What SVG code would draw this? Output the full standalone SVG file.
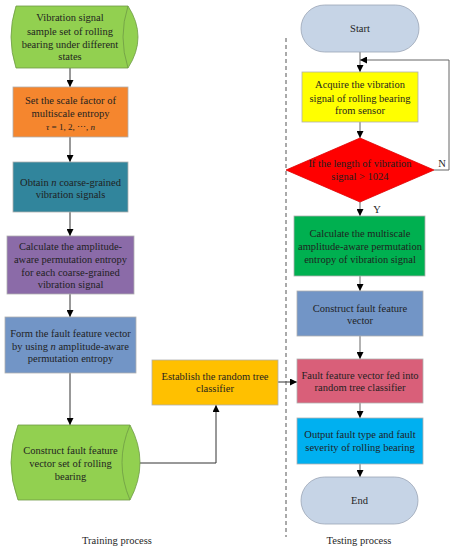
<svg xmlns="http://www.w3.org/2000/svg" width="454" height="550" viewBox="0 0 454 550">
<defs>
<marker id="ah" viewBox="0 0 10 10" refX="10" refY="5" markerWidth="7" markerHeight="7" markerUnits="userSpaceOnUse" orient="auto">
<path d="M0,0 L10,5 L0,10 z" fill="#000"/>
</marker>
<style>
text{font-family:"Liberation Serif","Times New Roman",serif;font-size:10.5px;fill:#1f1f1f;text-anchor:middle}
.box{stroke:#b0b0b0;stroke-width:0.8}
.cyl{fill:#92D050;stroke:#6f9a45;stroke-width:0.8}
.conn{fill:none;stroke:#333;stroke-width:1;marker-end:url(#ah)}
.connr{fill:none;stroke:#666;stroke-width:1;marker-end:url(#ah)}
.it{font-style:italic}
</style>
</defs>
<rect width="454" height="550" fill="#fff"/>

<g id="connectors">
<path class="conn" d="M70,68 V87"/>
<path class="conn" d="M70,137 V162"/>
<path class="conn" d="M70,212 V236"/>
<path class="conn" d="M70,294 V317"/>
<path class="conn" d="M70,373 V425"/>
<path class="conn" d="M140,463 H216 V405"/>
<path class="conn" d="M278,382 H297"/>
<path class="connr" d="M360,52 V72"/>
<path class="connr" d="M434,170 H449 V60 H360"/>
<path class="connr" d="M360,122 V138"/>
<path class="connr" d="M360,202 V216"/>
<path class="connr" d="M360,276 V291"/>
<path class="connr" d="M360,336 V359"/>
<path class="connr" d="M360,403 V418"/>
<path class="connr" d="M360,464 V477"/>
</g>

<line id="divider" x1="286" y1="38" x2="286" y2="537" stroke="#555" stroke-width="1" stroke-dasharray="4,3"/>

<g id="n_samples">
<path class="cyl" d="M16,6 Q6,37 16,68 H128 Q148,37 128,6 Z"/>
<path d="M128,6 Q118,37 128,68" fill="none" stroke="#6f9a45" stroke-width="0.8"/>
<text x="70" y="21">Vibration signal</text>
<text x="70" y="35">sample set of rolling</text>
<text x="70" y="48">bearing under different</text>
<text x="70" y="60">states</text>
</g>

<g id="n_scale">
<rect class="box" x="13" y="87" width="115" height="50" fill="#F5862E"/>
<text x="70.5" y="103.5">Set the scale factor of</text>
<text x="70.5" y="116.5">multiscale entropy</text>
<text x="70.5" y="130" style="font-size:9px"><tspan class="it">τ</tspan> = 1, 2, ⋯, <tspan class="it">n</tspan></text>
</g>

<g id="n_coarse">
<rect class="box" x="13" y="162" width="115" height="50" fill="#31859C"/>
<text x="70.5" y="186">Obtain <tspan class="it">n</tspan> coarse-grained</text>
<text x="70.5" y="198">vibration signals</text>
</g>

<g id="n_aape">
<rect class="box" x="7" y="236" width="127" height="58" fill="#8B6BA8"/>
<text x="70.5" y="250">Calculate the amplitude-</text>
<text x="70.5" y="263">aware permutation entropy</text>
<text x="70.5" y="276">for each coarse-grained</text>
<text x="70.5" y="288">vibration signal</text>
</g>

<g id="n_form">
<rect class="box" x="5" y="317" width="131" height="56" fill="#7295C6"/>
<text x="70.5" y="337">Form the fault feature vector</text>
<text x="70.5" y="350">by using <tspan class="it">n</tspan> amplitude-aware</text>
<text x="70.5" y="362">permutation entropy</text>
</g>

<g id="n_set">
<path class="cyl" d="M18,425 Q4,462.5 18,500 H130 Q150,462.5 130,425 Z"/>
<path d="M130,425 Q114,462.5 130,500" fill="none" stroke="#6f9a45" stroke-width="0.8"/>
<text x="70.5" y="454">Construct fault feature</text>
<text x="70.5" y="467">vector set of rolling</text>
<text x="70.5" y="480">bearing</text>
</g>

<g id="n_classifier">
<rect class="box" x="152" y="360" width="126" height="45" fill="#FFC000"/>
<text x="215" y="380">Establish the random tree</text>
<text x="215" y="392">classifier</text>
</g>

<g id="n_start">
<rect x="301" y="5" width="118" height="47" rx="23.5" fill="#C6D4E6" stroke="#9aa5b5" stroke-width="0.8"/>
<text x="360" y="32">Start</text>
</g>

<g id="n_acquire">
<rect class="box" x="302" y="72" width="116" height="50" fill="#FFFF00"/>
<text x="360" y="88">Acquire the vibration</text>
<text x="360" y="101.5">signal of rolling bearing</text>
<text x="360" y="114">from sensor</text>
</g>

<g id="n_decision">
<path d="M360,138 L434,170 L360,202 L286,170 Z" fill="#FF0000" stroke="#d00" stroke-width="0.8"/>
<text x="360" y="167">If the length of vibration</text>
<text x="360" y="180">signal &gt; 1024</text>
</g>

<text id="lbl_n" x="442" y="167">N</text>
<text id="lbl_y" x="377" y="213">Y</text>

<g id="n_mape">
<rect class="box" x="294" y="216" width="131" height="60" fill="#00B050"/>
<text x="360" y="237">Calculate the multiscale</text>
<text x="360" y="250">amplitude-aware permutation</text>
<text x="360" y="263">entropy of vibration signal</text>
</g>

<g id="n_vector">
<rect class="box" x="297" y="291" width="126" height="45" fill="#7295C6"/>
<text x="360" y="312">Construct fault feature</text>
<text x="360" y="324">vector</text>
</g>

<g id="n_fed">
<rect class="box" x="297" y="359" width="126" height="44" fill="#D95F79"/>
<text x="360" y="379">Fault feature vector fed into</text>
<text x="360" y="391">random tree classifier</text>
</g>

<g id="n_output">
<rect class="box" x="297" y="418" width="126" height="46" fill="#00B0F0"/>
<text x="360" y="438">Output fault type and fault</text>
<text x="360" y="451">severity of rolling bearing</text>
</g>

<g id="n_end">
<rect x="301" y="477" width="117" height="47" rx="23.5" fill="#C6D4E6" stroke="#9aa5b5" stroke-width="0.8"/>
<text x="359.5" y="504">End</text>
</g>

<text id="t_train" x="117" y="544">Training process</text>
<text id="t_test" x="359" y="544">Testing process</text>
</svg>
